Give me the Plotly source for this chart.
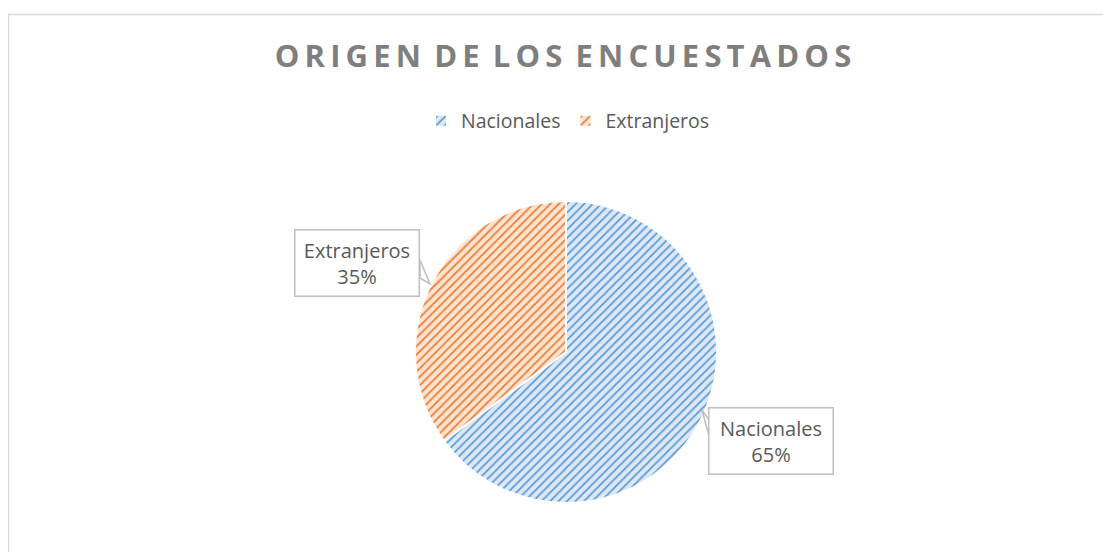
import plotly.graph_objects as go

categories = ["Nacionales", "Extranjeros"]
values = [65, 35]
fg_colors = ["#5b9bd5", "#ed7d31"]
bg_colors = ["#dce8f6", "#fce3d2"]
title_text = "ORIGEN DE LOS ENCUESTADOS"

# page body adds an 8px margin; work in screenshot pixels and convert
OFF = 8
W, H = 1103, 544
total = sum(values)


def px(x):
    return (x - OFF) / W


def py(y):
    return 1 - (y - OFF) / H


fig = go.Figure()
fig.add_trace(go.Pie(
    labels=categories,
    values=values,
    sort=False,
    direction="clockwise",
    rotation=0,
    textinfo="none",
    hoverinfo="label+percent",
    marker=dict(
        colors=bg_colors,
        line=dict(color="white", width=2),
        pattern=dict(shape="/", fgcolor=fg_colors, bgcolor=bg_colors,
                     size=6, solidity=0.3, fillmode="replace"),
    ),
    domain=dict(x=[px(566 - 151), px(566 + 151)],
                y=[py(503), py(201)]),
))

spaced = "\u2009".join(list(title_text)).replace("\u2009 \u2009", "\u2009 ")

label_pos = {"Nacionales": (771, 441), "Extranjeros": (357, 263)}
annotations = []
for c, v in zip(categories, values):
    lx, ly = label_pos[c]
    annotations.append(dict(
        x=px(lx), y=py(ly), xref="paper", yref="paper",
        xanchor="center", yanchor="middle",
        text=f"{c}<br>{round(100 * v / total)}%",
        showarrow=False, align="center",
        font=dict(family="Open Sans", size=20, color="#595959"),
        bordercolor="#bfbfbf", borderwidth=1.5, bgcolor="white",
        width=121, height=63, borderpad=1,
    ))

shapes = [
    dict(type="rect", xref="paper", yref="paper",
         x0=px(8.5), x1=1.05, y0=-0.05, y1=py(14.5),
         line=dict(color="#d9d9d9", width=1.5), fillcolor="rgba(0,0,0,0)", layer="below"),
    dict(type="path", xref="paper", yref="paper",
         path=f"M {px(420)} {py(260)} L {px(430)} {py(284)} L {px(420)} {py(278)} Z",
         line=dict(color="#bfbfbf", width=1.5), fillcolor="white"),
    dict(type="path", xref="paper", yref="paper",
         path=f"M {px(709)} {py(420)} L {px(702)} {py(410)} L {px(709)} {py(436)} Z",
         line=dict(color="#bfbfbf", width=1.5), fillcolor="white"),
]

fig.update_layout(
    width=W, height=H,
    margin=dict(l=0, r=0, t=0, b=0),
    paper_bgcolor="white",
    title=dict(text=f"<b>{spaced}</b>", x=px(563), xanchor="center",
               y=py(56), yanchor="middle", yref="paper",
               font=dict(family="Open Sans", size=31, color="#7f7f7f")),
    showlegend=True,
    legend=dict(orientation="h", x=px(568), xanchor="center",
                y=py(121), yanchor="middle",
                font=dict(family="Open Sans", size=19.5, color="#595959"),
                itemwidth=30),
    annotations=annotations,
    shapes=shapes,
)

fig.write_html("out.html")
